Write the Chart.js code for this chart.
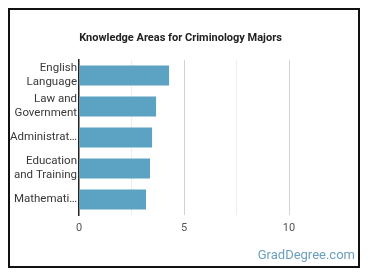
<!DOCTYPE html>
<html>
<head>
<meta charset="utf-8">
<script src="https://cdn.jsdelivr.net/npm/chart.js@4/dist/chart.umd.min.js"></script>
<style>
  html, body { margin: 0; padding: 0; background: #fff; }
  #wrap { position: relative; width: 370px; height: 278px; font-family: Roboto, sans-serif; }
  #chart { position: absolute; left: 0; top: 0; }
  #frame {
    position: absolute; left: 8px; top: 8px; width: 352px; height: 260px;
    box-sizing: border-box; border: 2px solid #111; pointer-events: none;
  }
  #title {
    position: absolute; left: 0; width: 361px; top: 31px; text-align: center;
    font-weight: bold; font-size: 11px; color: #222;
  }
  #brand {
    position: absolute; right: 15px; top: 247px;
    font-size: 13px; color: #6a9ebf;
  }
</style>
</head>
<body>
<div id="wrap">
  <canvas id="chart" width="370" height="278"></canvas>
  <div id="title">Knowledge Areas for Criminology Majors</div>
  <div id="brand">GradDegree.com</div>
  <div id="frame"></div>
</div>
<script>
// data
const categories = [
  ['English', 'Language'],
  ['Law and', 'Government'],
  'Administrat\u2026',
  ['Education', 'and Training'],
  'Mathemati\u2026',
];
const scores = [4.29, 3.67, 3.48, 3.38, 3.19];
const xTickLabels = [0, 5, 10];

const barColor = '#5ba2c3';

new Chart(document.getElementById('chart'), {
  type: 'bar',
  data: {
    labels: categories,
    datasets: [{
      data: scores,
      backgroundColor: barColor,
      borderWidth: 0,
      categoryPercentage: 0.64,
      barPercentage: 1,
    }],
  },
  options: {
    indexAxis: 'y',
    responsive: false,
    animation: false,
    layout: { padding: { left: 8, right: 28.5, top: 60, bottom: 43 } },
    plugins: {
      legend: { display: false },
      tooltip: { enabled: false },
    },
    scales: {
      x: {
        min: 0,
        max: 12.5,
        ticks: {
          stepSize: 2.5,
          padding: 7,
          color: '#555',
          font: { family: 'Roboto', size: 11 },
          callback: (v) => (xTickLabels.includes(v) ? String(v) : ''),
        },
        grid: {
          drawTicks: false,
          color: (ctx) => {
            const v = ctx.tick ? ctx.tick.value : 0;
            if (v === 0 || v >= 12.5) return 'rgba(0,0,0,0)';
            return v % 5 === 0 ? '#d2d2d2' : '#efefef';
          },
        },
        border: { display: false },
        afterFit: (scale) => { scale.height = 20; },
      },
      y: {
        ticks: {
          autoSkip: false,
          padding: 2,
          color: '#383838',
          font: { family: 'Roboto', size: 11.5, lineHeight: 1.22 },
        },
        grid: { display: false, drawTicks: false },
        border: { display: true, color: '#222', width: 1.5 },
        afterFit: (scale) => { scale.width = 71; },
      },
    },
  },
});
</script>
</body>
</html>
